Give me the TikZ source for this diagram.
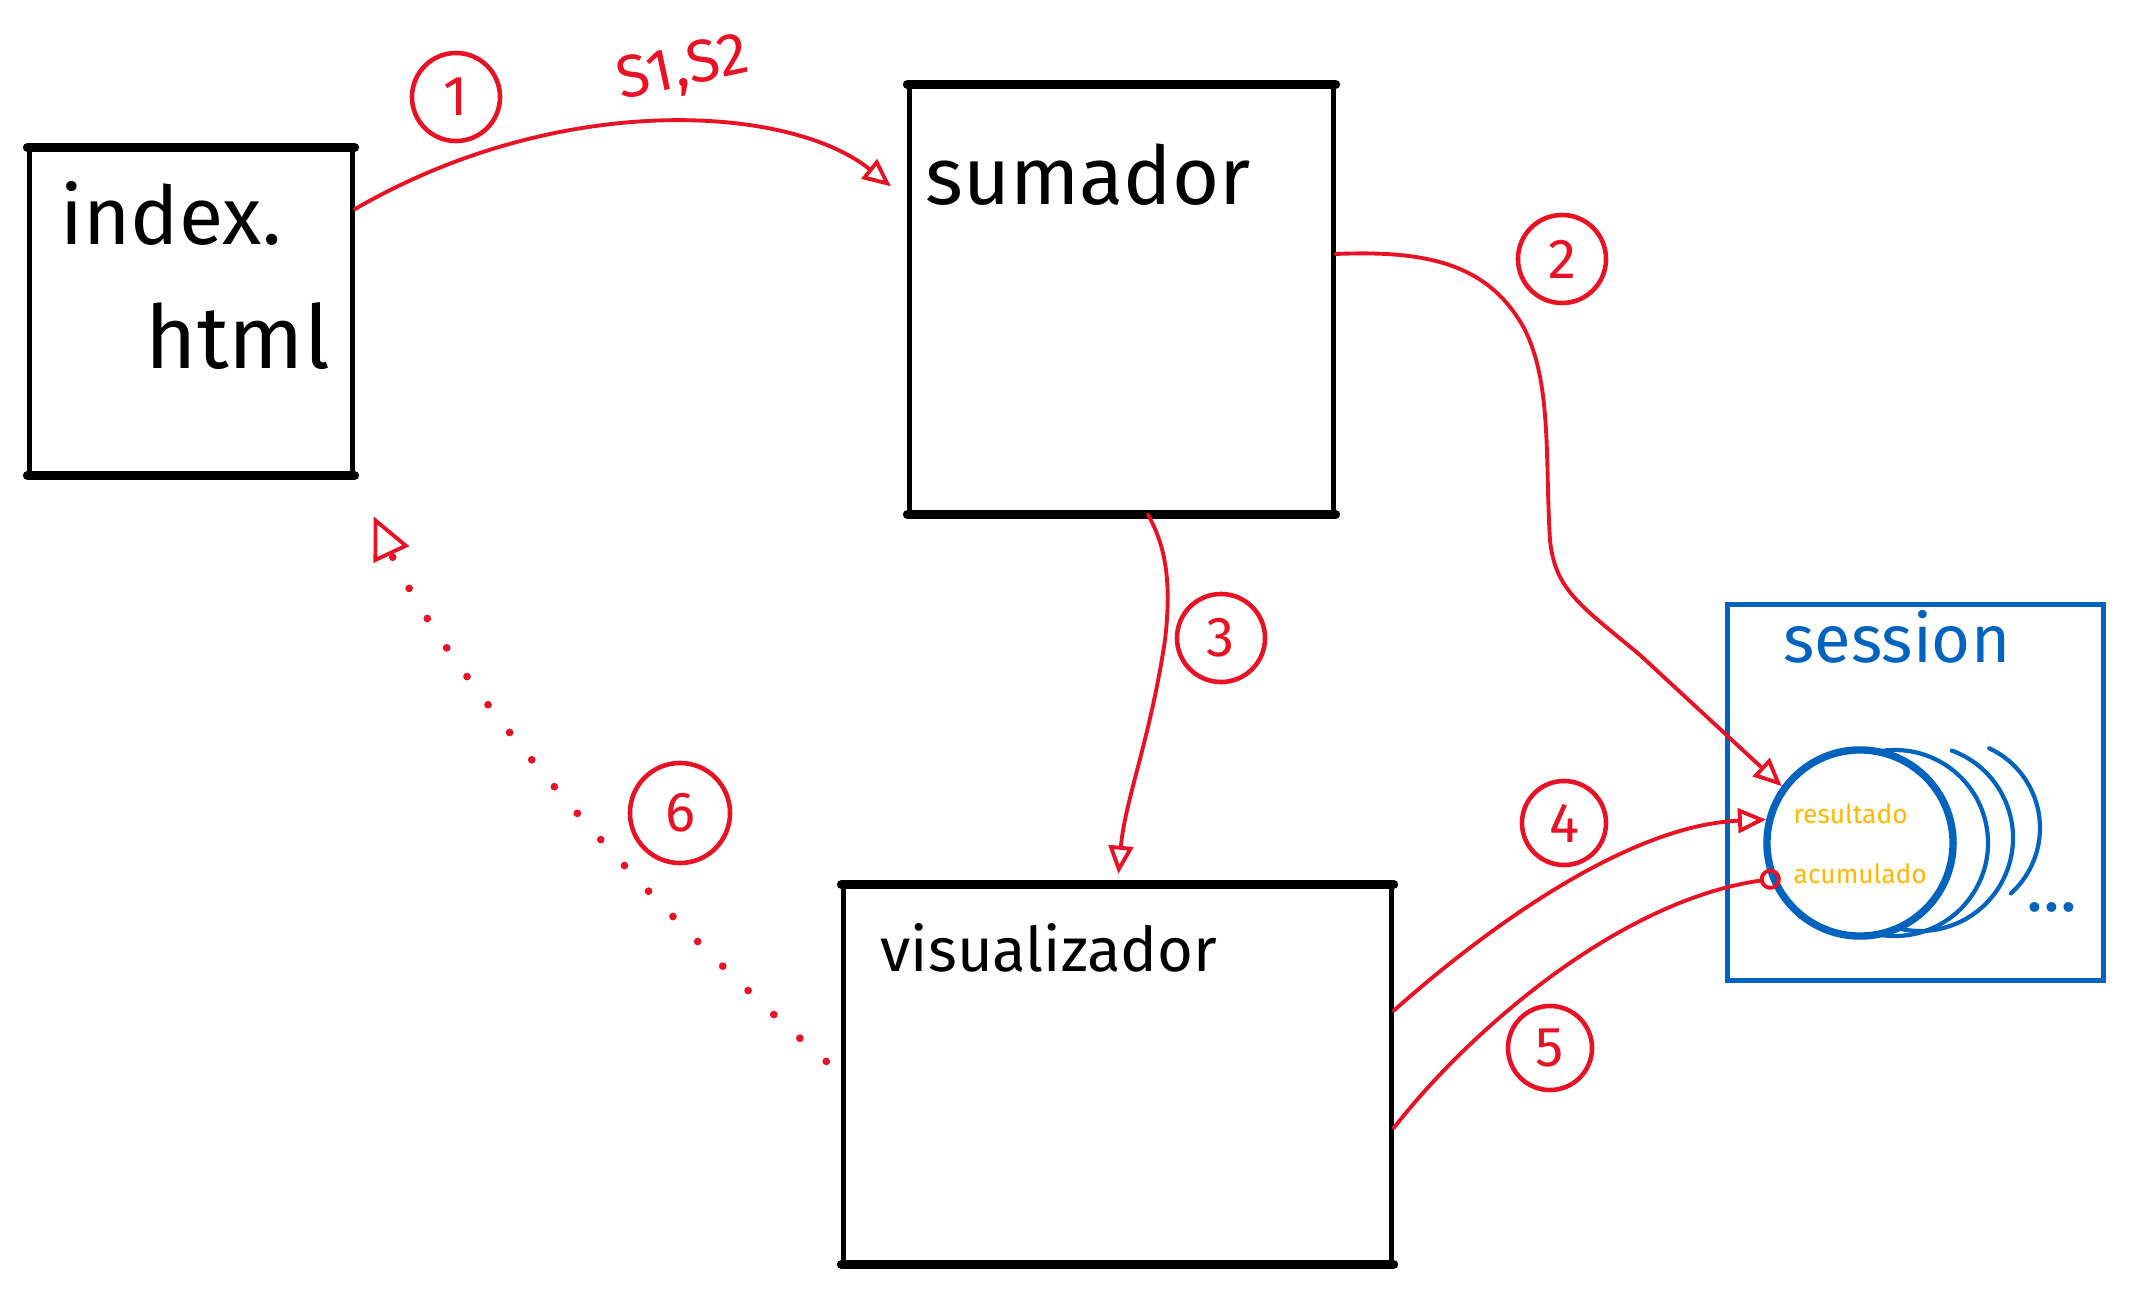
\documentclass[tikz,border=0pt]{standalone}
\usepackage{fontspec}
\setmainfont{Fira Sans}
\usetikzlibrary{arrows.meta}
\definecolor{SketchInk}{HTML}{000000}
\definecolor{SketchRed}{HTML}{E81224}
\definecolor{SketchBlue}{HTML}{0063BE}
\definecolor{SketchAmber}{HTML}{FFB900}
\tikzset{
  sketch box/.style={draw=SketchInk, line width=1.4pt, inner sep=0pt},
  sketch rim/.style={draw=SketchInk, line width=2.6pt, line cap=round},
  sketch title/.style={font=\fontsize{23}{27}\selectfont, text=SketchInk, inner sep=0pt},
  sketch store/.style={draw=SketchBlue, line width=1.4pt, inner sep=0pt},
  sketch disk/.style={circle, draw=SketchBlue, fill=white, line width=2.1pt, minimum size=1.86cm, inner sep=0pt},
  sketch layer/.style={draw=SketchBlue, line width=1.2pt, line cap=round},
  sketch field/.style={font=\fontsize{7.5}{9}\selectfont, text=SketchAmber, inner sep=0pt},
  sketch badge/.style={circle, draw=SketchRed, line width=1.3pt, minimum size=.88cm, inner sep=0pt,
    font=\fontsize{16}{19}\selectfont, text=SketchRed},
  sketch link/.style={draw=SketchRed, line width=1.1pt, line cap=round, -{Triangle[open,length=8pt,width=7pt]}},
  sketch ref/.style={draw=SketchRed, line width=1.1pt, line cap=round, -{Circle[open,length=6pt,width=6pt]}},
  sketch return/.style={draw=SketchRed, line width=2.2pt, line cap=round, dash pattern=on 0pt off 10pt,
    -{Triangle[open,length=12pt,width=11pt,line width=1.1pt]}},
}

\begin{document}
\begin{tikzpicture}[x=.01cm,y=-.01cm]
  \useasboundingbox (0,0) rectangle (2139,1291);

  % pages
  \node[sketch box, minimum width=3.22cm, minimum height=3.23cm] (index) at (191,311.5) {};
  \node[sketch title, anchor=base west] (index text) at (60,245) {index.};
  \node[sketch title, font=\fontsize{25}{29}\selectfont, anchor=base west] (html text) at (145,368) {html};

  \node[sketch box, minimum width=4.23cm, minimum height=4.25cm] (sumador) at (1121.5,299.5) {};
  \node[sketch title, anchor=base west] (sumador text) at (925,205) {sumador};

  \node[sketch box, minimum width=5.47cm, minimum height=3.75cm] (visualizador) at (1117.5,1074.5) {};
  \node[sketch title, font=\fontsize{17.5}{21}\selectfont, anchor=base west] (visualizador text) at (880,971) {visualizador};

  \draw[sketch rim] (index.north west) -- (index.north east);
  \draw[sketch rim] (index.south west) -- (index.south east);
  \draw[sketch rim] (sumador.north west) -- (sumador.north east);
  \draw[sketch rim] (sumador.south west) -- (sumador.south east);
  \draw[sketch rim] (visualizador.north west) -- (visualizador.north east);
  \draw[sketch rim] (visualizador.south west) -- (visualizador.south east);

  % session store
  \node[sketch store, minimum width=3.75cm, minimum height=3.75cm] (session) at (1915.5,792.5) {};
  \node[sketch title, font=\fontsize{19}{23}\selectfont, text=SketchBlue, anchor=base west] (session text) at (1783,662) {session};

  \draw[sketch layer] ([shift={(-100:93)}]1895,843) arc[start angle=-100, end angle=115, radius=93];
  \draw[sketch layer] ([shift={(-70:93)}]1920,838) arc[start angle=-70, end angle=105, radius=93];
  \draw[sketch layer] ([shift={(-65:88)}]1952,828) arc[start angle=-65, end angle=48, radius=88];
  \node[sketch disk] (disk) at (1860,843) {};
  \node[sketch field, anchor=base west] (resultado) at (1793,823) {resultado};
  \node[sketch field, anchor=base west] (acumulado) at (1793,883) {acumulado};
  \node[sketch title, font=\fontsize{20}{24}\selectfont, text=SketchBlue, anchor=base] (more) at (2052,911) {...};

  % requests
  \draw[sketch link, shorten >=6pt] (index.32) .. controls (560,90) and (790,105) .. (sumador.155);
  \node[sketch title, font=\fontsize{17}{20}\selectfont, text=SketchRed, rotate=12] (params) at (683,70) {S1,S2};
  \node[sketch badge] (badge1) at (456,97) {1};

  \draw[sketch link] (sumador.12) .. controls (1430,250) and (1490,265) .. (1525,330)
    .. controls (1552,385) and (1545,460) .. (1550,540)
    .. controls (1555,590) and (1580,605) .. (1640,655) -- (disk.144);
  \node[sketch badge] (badge2) at (1562,259) {2};

  \draw[sketch link, shorten >=3pt] (sumador.-83) .. controls (1165,545) and (1172,580) .. (1165,640)
    .. controls (1150,740) and (1125,800) .. (visualizador.north);
  \node[sketch badge] (badge3) at (1221,638) {3};

  \draw[sketch link] (visualizador.13) .. controls (1490,925) and (1630,825) .. (disk.166);
  \node[sketch badge, minimum size=.84cm] (badge4) at (1564,823) {4};

  \draw[sketch ref, shorten >=-3pt] (visualizador.-11) .. controls (1470,1030) and (1620,900) .. (disk.202);
  \node[sketch badge, minimum size=.84cm] (badge5) at (1550,1048) {5};

  \draw[sketch return, shorten <=.2cm, shorten >=.45cm] (visualizador.west) .. controls (640,900) and (450,680) .. (index.south east);
  \node[sketch badge, minimum size=1cm] (badge6) at (680,813) {6};
\end{tikzpicture}
\end{document}
